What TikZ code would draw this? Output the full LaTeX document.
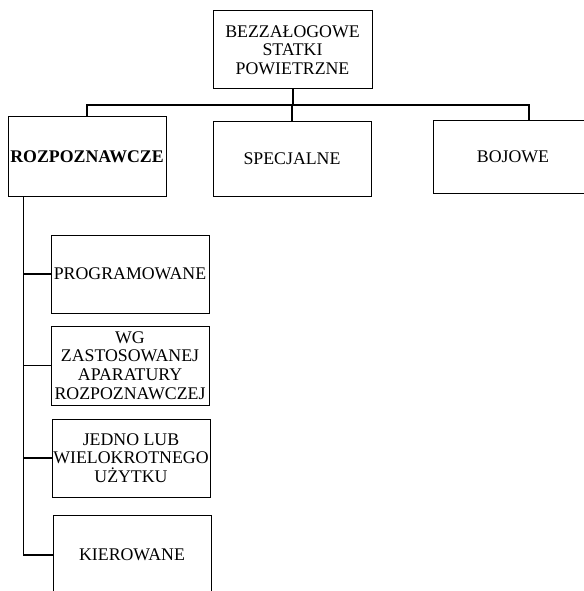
\documentclass[tikz,border=0pt]{standalone}
\usepackage{fontspec}
\setmainfont{Liberation Serif}
\tikzset{box/.style={draw,line width=1pt,inner sep=0pt,align=center,
    minimum width=158pt,minimum height=78pt,font=\fontsize{17.8}{18.7}\selectfont},
  link/.style={line width=1.2pt}}
\begin{document}
\begin{tikzpicture}[x=1pt,y=-1pt]
\useasboundingbox (0,0) rectangle (583,591);
\node[box,minimum width=159pt] (bsp) at (292.5,50) {BEZZAŁOGOWE\\STATKI\\POWIETRZNE};
\node[box,minimum height=79pt] (rozp) at (87,156.5) {\bfseries ROZPOZNAWCZE};
\node[box,minimum height=74pt] (spec) at (292,159) {SPECJALNE};
\node[box,minimum width=160pt,minimum height=72pt] (boj) at (513,157) {BOJOWE};
\node[box] (prog) at (130,274) {PROGRAMOWANE};
\node[box,minimum height=79pt] (wg) at (130,365.5) {WG\\ZASTOSOWANEJ\\APARATURY\\ROZPOZNAWCZEJ};
\node[box] (jedno) at (131,458) {JEDNO LUB\\WIELOKROTNEGO\\UŻYTKU};
\node[box,minimum height=80pt] (kier) at (132,555) {KIEROWANE};
\coordinate (bar) at (0,105);
\coordinate (spine) at ([xshift=16pt]rozp.south west);
\draw[link,line width=2pt] (bsp.south) -- (bsp.south |- bar);
\draw[link] (rozp.north) |- ([xshift=16pt]boj.north |- bar) -- ([xshift=16pt]boj.north);
\draw[link] (spec.north) -- (spec.north |- bar);
\draw[link] (spine) -- (spine |- kier.west) -- (kier.west);
\foreach \n in {prog,wg,jedno}
  \draw[link] (spine |- \n.west) -- (\n.west);
\end{tikzpicture}
\end{document}
